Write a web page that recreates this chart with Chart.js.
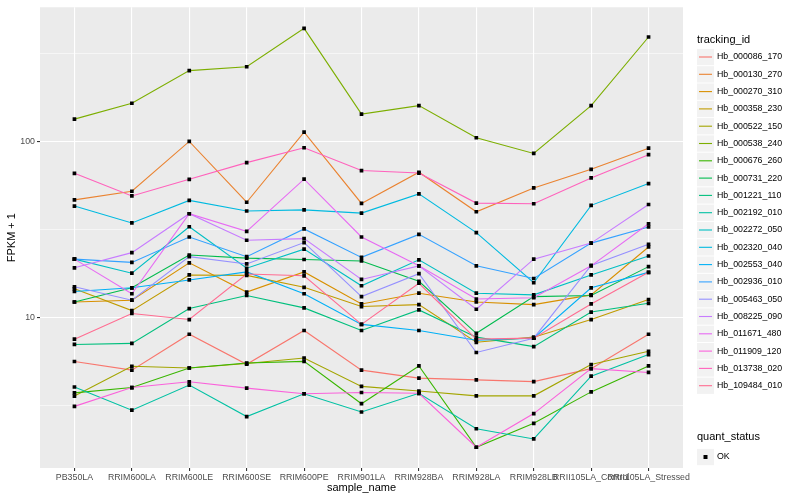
<!DOCTYPE html>
<html>
<head>
<meta charset="utf-8">
<script src="https://cdn.jsdelivr.net/npm/chart.js@4.4.1/dist/chart.umd.min.js"></script>
<style>
  body { margin: 0; background: #fff; }
</style>
</head>
<body>
<canvas id="fpkmChart" width="800" height="500"></canvas>
<script>
// x-axis samples
const samples = ["PB350LA", "RRIM600LA", "RRIM600LE", "RRIM600SE", "RRIM600PE", "RRIM901LA",
  "RRIM928BA", "RRIM928LA", "RRIM928LB", "RRII105LA_Control", "RRII105LA_Stressed"];

// FPKM + 1, one array per gene
const hb_000086_170 = [5.6, 5.0, 8.0, 5.4, 8.4, 5.0, 4.5, 4.4, 4.3, 5.1, 8.0];
const hb_000130_270 = [46.5, 52.1, 100, 45.1, 113, 44.4, 66.8, 39.8, 54.4, 69.4, 91.6];
const hb_000270_310 = [12.2, 12.5, 20.4, 13.9, 18.1, 11.9, 13.7, 12.2, 11.8, 13.4, 25.1];
const hb_000358_230 = [14.5, 10.9, 17.4, 17.3, 14.8, 11.5, 11.8, 7.2, 7.7, 9.7, 12.6];
const hb_000522_150 = [3.56, 5.26, 5.14, 5.45, 5.86, 4.04, 3.8, 3.57, 3.57, 5.38, 6.4];
const hb_000538_240 = [134, 165, 253, 266, 440, 143, 160, 105, 85.5, 160, 393];
const hb_000676_260 = [3.71, 3.98, 5.14, 5.49, 5.61, 3.22, 5.28, 1.82, 2.49, 3.76, 5.28];
const hb_000731_220 = [12.2, 14.7, 22.6, 21.7, 21.3, 20.9, 16.0, 8.1, 13.1, 13.3, 19.4];
const hb_001221_110 = [7.0, 7.1, 11.2, 13.3, 11.3, 8.4, 11.0, 7.7, 6.8, 10.7, 12.0];
const hb_002192_010 = [4.01, 2.96, 4.11, 2.72, 3.67, 2.89, 3.69, 2.32, 2.03, 4.62, 6.13];
const hb_002272_050 = [21.4, 17.8, 32.7, 19.0, 24.4, 15.1, 21.2, 13.7, 13.4, 17.4, 22.3];
const hb_002320_040 = [42.9, 34.4, 46.2, 40.2, 40.8, 39.1, 50.3, 30.3, 15.7, 43.3, 57.6];
const hb_002553_040 = [14.0, 14.7, 16.3, 18.1, 13.6, 9.1, 8.4, 7.4, 7.6, 14.7, 18.0];
const hb_002936_010 = [21.4, 20.5, 28.6, 22.1, 31.8, 21.9, 29.6, 19.6, 16.6, 26.4, 32.6];
const hb_005463_050 = [14.9, 12.5, 22.1, 20.1, 26.6, 13.1, 17.7, 6.3, 7.6, 19.7, 26.0];
const hb_008225_090 = [19.1, 23.3, 38.8, 27.4, 28.0, 16.4, 19.6, 11.1, 21.4, 26.4, 43.8];
const hb_011671_480 = [21.4, 13.6, 38.8, 30.8, 61.0, 28.6, 19.6, 12.7, 12.9, 19.6, 34.0];
const hb_011909_120 = [3.11, 3.98, 4.29, 3.95, 3.67, 3.73, 3.69, 1.82, 2.83, 5.1, 4.85];
const hb_013738_020 = [65.9, 49.0, 60.9, 75.8, 92.1, 68.3, 66.1, 44.6, 44.2, 62.0, 84.1];
const hb_109484_010 = [7.5, 10.5, 9.7, 17.6, 17.2, 9.1, 15.6, 7.5, 7.6, 11.9, 18.0];

const trackingIds = ["Hb_000086_170", "Hb_000130_270", "Hb_000270_310", "Hb_000358_230",
  "Hb_000522_150", "Hb_000538_240", "Hb_000676_260", "Hb_000731_220", "Hb_001221_110",
  "Hb_002192_010", "Hb_002272_050", "Hb_002320_040", "Hb_002553_040", "Hb_002936_010",
  "Hb_005463_050", "Hb_008225_090", "Hb_011671_480", "Hb_011909_120", "Hb_013738_020",
  "Hb_109484_010"];
const seriesValues = [hb_000086_170, hb_000130_270, hb_000270_310, hb_000358_230,
  hb_000522_150, hb_000538_240, hb_000676_260, hb_000731_220, hb_001221_110,
  hb_002192_010, hb_002272_050, hb_002320_040, hb_002553_040, hb_002936_010,
  hb_005463_050, hb_008225_090, hb_011671_480, hb_011909_120, hb_013738_020,
  hb_109484_010];

// y grid: labelled decades and the minor lines between them
const yLabelTicks = [10, 100];
const yGridTicks = [3.162, 10, 31.62, 100, 316.2];

// ggplot default hue palette for 20 groups
const hueColors = ["#F8766D", "#EA8331", "#D89000", "#C09B00", "#A3A500", "#7CAE00",
  "#39B600", "#00BB4E", "#00BF7D", "#00C1A3", "#00BFC4", "#00BAE0", "#00B0F6", "#35A2FF",
  "#9590FF", "#C77CFF", "#E76BF3", "#FA62DB", "#FF62BC", "#FF6C91"];

const FONT = '"Liberation Sans", Arial, sans-serif';

// grey panel behind the grid
const panelBg = {
  id: "panelBg",
  beforeDraw(chart) {
    const { ctx, chartArea: a } = chart;
    ctx.save();
    ctx.fillStyle = "#fff";
    ctx.fillRect(0, 0, chart.width, chart.height);
    ctx.fillStyle = "#EBEBEB";
    ctx.fillRect(a.left, a.top, a.right - a.left, a.bottom - a.top);
    ctx.restore();
  },
};

// axis titles + the two ggplot style legends on the right
const ggExtras = {
  id: "ggExtras",
  afterDraw(chart) {
    const { ctx, chartArea: a } = chart;
    ctx.save();
    ctx.fillStyle = "#000";
    ctx.textBaseline = "middle";
    ctx.font = "11px " + FONT;
    ctx.textAlign = "center";
    ctx.fillText("sample_name", (a.left + a.right) / 2, 488);
    ctx.save();
    ctx.translate(12, (a.top + a.bottom) / 2);
    ctx.rotate(-Math.PI / 2);
    ctx.fillText("FPKM + 1", 0, 0);
    ctx.restore();

    ctx.textAlign = "left";
    ctx.fillText("tracking_id", 697, 40);
    chart.data.datasets.forEach((ds, i) => {
      const cy = 57 + i * 17.3;
      ctx.fillStyle = "#F2F2F2";
      ctx.fillRect(697, cy - 8.1, 17, 16.3);
      ctx.strokeStyle = ds.borderColor;
      ctx.lineWidth = 1.1;
      ctx.beginPath();
      ctx.moveTo(699, cy);
      ctx.lineTo(712, cy);
      ctx.stroke();
      ctx.fillStyle = "#000";
      ctx.font = "8.8px " + FONT;
      ctx.fillText(ds.label, 717, cy);
    });

    ctx.font = "11px " + FONT;
    ctx.fillText("quant_status", 697, 437);
    ctx.fillStyle = "#F2F2F2";
    ctx.fillRect(697, 457 - 8.1, 17, 16.3);
    ctx.fillStyle = "#000";
    ctx.fillRect(703.5, 455, 4, 4);
    ctx.font = "8.8px " + FONT;
    ctx.fillText("OK", 717, 457);
    ctx.restore();
  },
};

const ctx = document.getElementById("fpkmChart");
new Chart(ctx, {
  type: "line",
  data: {
    datasets: seriesValues.map((vals, i) => ({
      label: trackingIds[i],
      data: vals.map((v, j) => ({ x: j, y: v })),
      borderColor: hueColors[i],
      borderWidth: 1.1,
      fill: false,
      tension: 0,
      order: seriesValues.length - i,
      pointStyle: "rect",
      pointRadius: 2.6,
      pointHoverRadius: 2.6,
      pointBorderWidth: 0,
      pointBackgroundColor: "#000",
    })),
  },
  options: {
    responsive: false,
    animation: false,
    events: [],
    layout: { padding: { top: 5, right: 117, left: 0, bottom: 0 } },
    plugins: { legend: { display: false }, tooltip: { enabled: false } },
    scales: {
      x: {
        type: "linear",
        min: -0.6,
        max: 10.6,
        afterBuildTicks: (scale) => {
          scale.ticks = samples.map((_, i) => ({ value: i }));
        },
        afterFit: (scale) => { scale.height = 32; },
        ticks: {
          autoSkip: false,
          maxRotation: 0,
          minRotation: 0,
          padding: 1,
          color: "#4D4D4D",
          font: { family: FONT, size: 8.8 },
          callback: (v) => samples[v],
        },
        grid: { color: "#FFFFFF", lineWidth: 1.1, tickColor: "#333333", tickLength: 3 },
        border: { display: false },
      },
      y: {
        type: "logarithmic",
        min: 1.387,
        max: 580,
        afterBuildTicks: (scale) => {
          scale.ticks = yGridTicks.map((v) => ({ value: v }));
        },
        afterFit: (scale) => { scale.width = 40; },
        ticks: {
          padding: 2,
          color: "#4D4D4D",
          font: { family: FONT, size: 8.8 },
          callback: (v) => (yLabelTicks.includes(v) ? String(v) : ""),
        },
        grid: {
          color: "#FFFFFF",
          lineWidth: (c) => (c.tick && yLabelTicks.includes(c.tick.value) ? 1.1 : 0.55),
          tickColor: (c) => (c.tick && yLabelTicks.includes(c.tick.value) ? "#333333" : "rgba(0,0,0,0)"),
          tickLength: 3,
        },
        border: { display: false },
      },
    },
  },
  plugins: [panelBg, ggExtras],
});
</script>
</body>
</html>
